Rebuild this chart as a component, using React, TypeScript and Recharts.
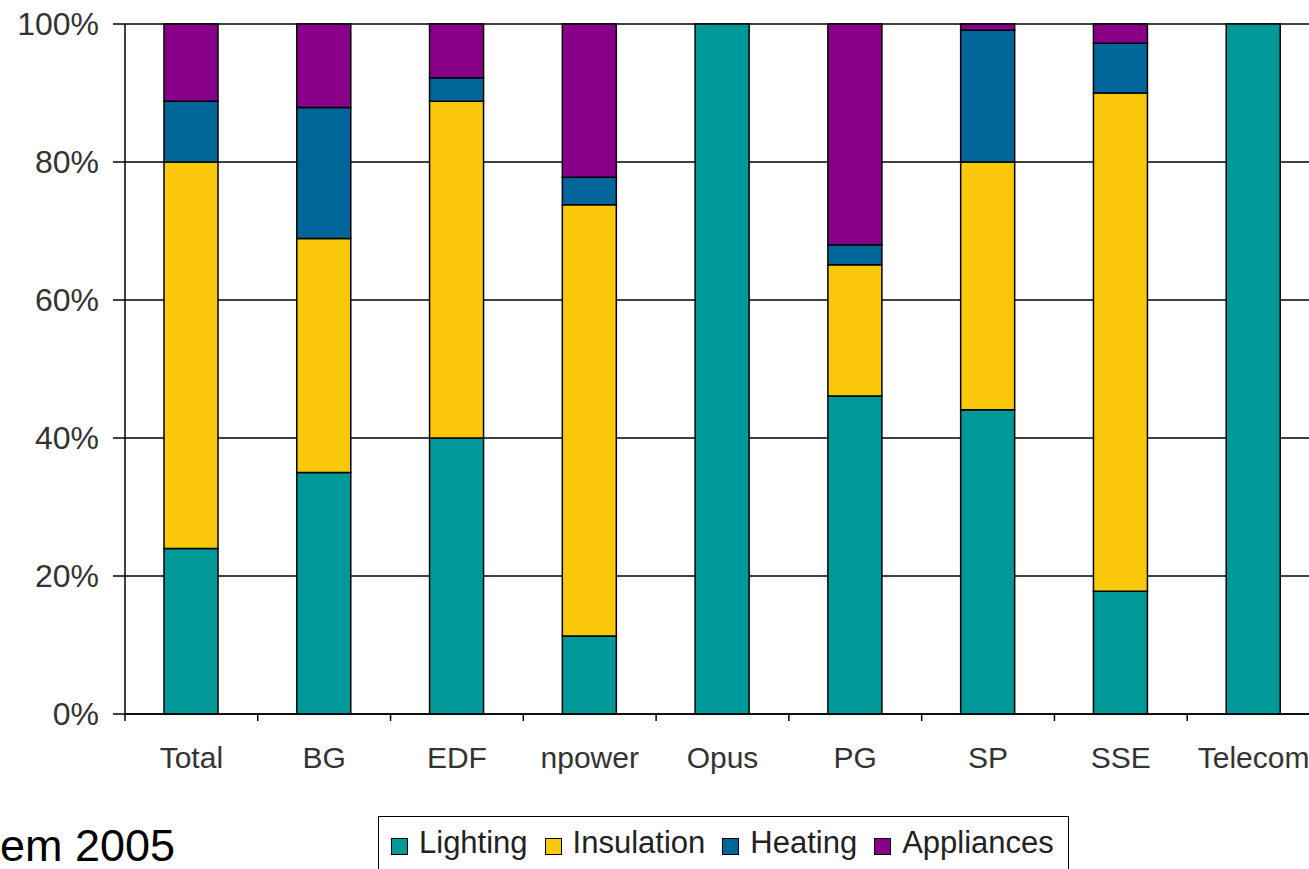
import { Bar, BarChart, CartesianGrid, XAxis, YAxis } from "recharts";

const suppliers = ["Total", "BG", "EDF", "npower", "Opus", "PG", "SP", "SSE", "Telecom"];
const lighting = [24, 35, 40, 11.3, 100, 46.1, 44.1, 17.8, 100];
const insulation = [56, 33.9, 48.8, 62.5, 0, 19, 35.9, 72.2, 0];
const heating = [8.8, 19, 3.4, 4, 0, 2.9, 19.1, 7.2, 0];
const appliances = [11.2, 12.1, 7.8, 22.2, 0, 32, 0.9, 2.8, 0];
const yTicks = [0, 20, 40, 60, 80, 100];

const series = [
  { key: "lighting", name: "Lighting", color: "#009999" },
  { key: "insulation", name: "Insulation", color: "#F9C80A" },
  { key: "heating", name: "Heating", color: "#006699" },
  { key: "appliances", name: "Appliances", color: "#880088" },
];

const data = suppliers.map((name, i) => ({
  name,
  lighting: lighting[i],
  insulation: insulation[i],
  heating: heating[i],
  appliances: appliances[i],
}));

const CHART_W = 1320;
const AXIS_W = 125;
const BAND = (CHART_W - AXIS_W) / suppliers.length;

function SupplierTick(props: any) {
  const { x, y, payload } = props;
  return (
    <g>
      <line x1={x - BAND / 2} x2={x - BAND / 2} y1={y} y2={y + 7} stroke="#000" strokeWidth={1.5} />
      <text x={x} y={y + 43} textAnchor="middle" dominantBaseline="central" fontSize={30} fill="#333" fontFamily="Liberation Sans, Arial, sans-serif">
        {payload.value}
      </text>
    </g>
  );
}

export default function App() {
  return (
    <div style={{ position: "absolute", left: 0, top: 0, width: 1309, height: 869, overflow: "hidden", background: "#fff", fontFamily: "Liberation Sans, Arial, sans-serif" }}>
      <BarChart width={CHART_W} height={784} data={data} margin={{ top: 24, right: 0, left: 0, bottom: 0 }} barSize={54}>
        <CartesianGrid vertical={false} stroke="#000" strokeWidth={1.5} />
        <XAxis
          dataKey="name"
          height={70}
          interval={0}
          tickLine={false}
          tickSize={0}
          tickMargin={0}
          axisLine={{ stroke: "#000", strokeWidth: 1.5 }}
          tick={<SupplierTick />}
        />
        <YAxis
          width={AXIS_W}
          domain={[0, 100]}
          ticks={yTicks}
          tickFormatter={(v) => `${v}%`}
          tickSize={12}
          tickMargin={14}
          tickLine={{ stroke: "#000", strokeWidth: 1.5 }}
          axisLine={{ stroke: "#000", strokeWidth: 1.5 }}
          tick={{ fontSize: 32, fill: "#333" }}
        />
        {series.map((s) => (
          <Bar key={s.key} dataKey={s.key} name={s.name} stackId="a" fill={s.color} stroke="#000" strokeWidth={1.5} isAnimationActive={false} />
        ))}
      </BarChart>
      <div style={{ position: "absolute", left: 0, top: 826, fontSize: 45, color: "#000", lineHeight: "40px", whiteSpace: "nowrap" }}>em 2005</div>
      <div
        style={{
          position: "absolute",
          left: 378,
          top: 816,
          width: 691,
          height: 80,
          border: "1.5px solid #000",
          boxSizing: "border-box",
          display: "flex",
          alignItems: "flex-start",
          paddingTop: 8,
          paddingLeft: 12,
          gap: 17,
        }}
      >
        {series.map((s) => (
          <div key={s.key} style={{ display: "flex", alignItems: "center" }}>
            <span style={{ width: 17, height: 17, boxSizing: "border-box", background: s.color, border: "1.5px solid #000", marginRight: 11, marginTop: 6 }} />
            <span style={{ fontSize: 31, color: "#222", lineHeight: "36px" }}>{s.name}</span>
          </div>
        ))}
      </div>
    </div>
  );
}
